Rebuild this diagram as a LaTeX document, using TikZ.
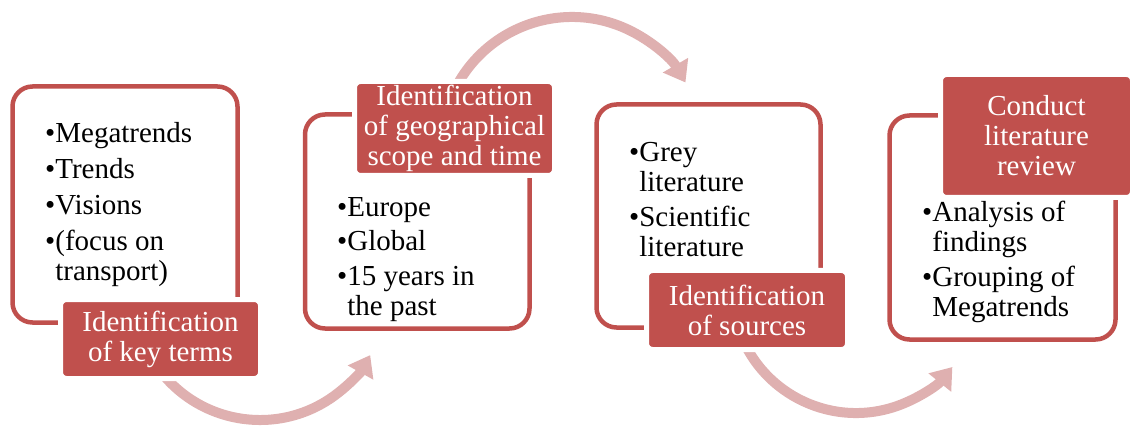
\documentclass[tikz,border=0pt]{standalone}
\usepackage{fontspec}
\setmainfont{Liberation Serif}
\usepackage{xcolor}
\usetikzlibrary{arrows.meta}

\definecolor{boxred}{HTML}{C0504D}
\definecolor{flowpink}{RGB}{223,176,176}
\newcommand{\ind}{\hphantom{\textbullet}}

\begin{document}
\begin{tikzpicture}[x=1pt,y=1pt,>={Triangle[width=28pt,length=20pt]},
 frame/.style={draw=boxred,line width=4.5pt,rounded corners=20pt,inner sep=0pt},
 tag/.style={fill=boxred,draw=white,line width=5pt,rounded corners=6pt,text=white,
  align=center,inner sep=0pt,font=\fontsize{29}{30}\selectfont},
 items/.style={anchor=north west,align=left,inner sep=0pt,font=\fontsize{29}{30}\selectfont},
 flow/.style={->,draw=flowpink,line width=10pt}]
 \useasboundingbox (0,0) rectangle (1131,-427);

 % outer frames
 \node[frame,minimum width=225pt,minimum height=236pt] (b1) at (125,-204.5) {};
 \node[frame,minimum width=224.5pt,minimum height=214pt] (b2) at (417.25,-221.5) {};
 \node[frame,minimum width=224pt,minimum height=223pt] (b3) at (708.5,-216) {};
 \node[frame,minimum width=226pt,minimum height=224pt] (b4) at (1002.5,-227.5) {};

 % curved arrows
 \coordinate (c1) at (260,-294);
 \coordinate (c2) at (572,-148);
 \coordinate (c3) at (856,-289);
 \draw[flow] ([shift={(215:126pt)}]c1) arc[start angle=215,end angle=331,radius=126pt];
 \draw[flow] ([shift={(155:131pt)}]c2) arc[start angle=155,end angle=30,radius=131pt];
 \draw[flow] ([shift={(200:124pt)}]c3) arc[start angle=200,end angle=321,radius=124pt];

 % step labels
 \node[tag,minimum width=200pt,minimum height=79pt] (l1) at (160.5,-339) {Identification\\of key terms};
 \node[tag,minimum width=200pt,minimum height=94pt] (l2) at (454.5,-128.5) {Identification\\of geographical\\scope and time};
 \node[tag,minimum width=201pt,minimum height=79pt] (l3) at (747,-310) {Identification\\of sources};
 \node[tag,minimum width=192pt,minimum height=123pt] (l4) at (1036.5,-136) {Conduct\\literature\\review};

 % bullet lists
 \node[items] (t1) at (45,-122) {\textbullet Megatrends\\[6pt]\textbullet Trends\\[6pt]\textbullet Visions\\[6pt]\textbullet(focus on\\\ind transport)};
 \node[items] (t2) at (337,-197) {\textbullet Europe\\[4pt]\textbullet Global\\[5pt]\textbullet 15 years in\\\ind the past};
 \node[items] (t3) at (629,-142) {\textbullet Grey\\\ind literature\\[5pt]\textbullet Scientific\\\ind literature};
 \node[items] (t4) at (922,-201) {\textbullet Analysis of\\\ind findings\\[5pt]\textbullet Grouping of\\\ind Megatrends};
\end{tikzpicture}
\end{document}
